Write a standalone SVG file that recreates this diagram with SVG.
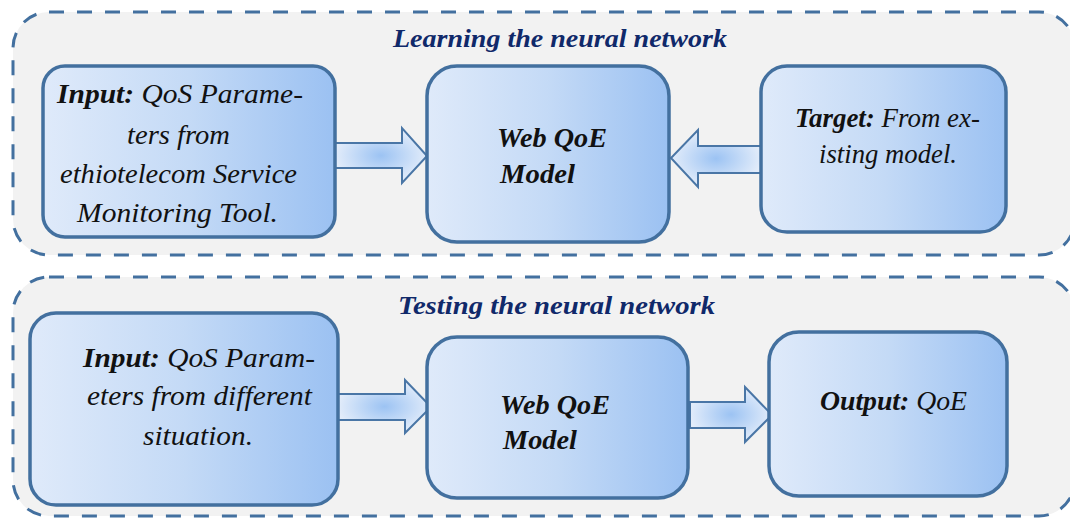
<svg xmlns="http://www.w3.org/2000/svg" width="1070" height="518" viewBox="0 0 1070 518">
  <defs>
    <linearGradient id="boxFill" x1="0" y1="0" x2="1" y2="0">
      <stop offset="0" stop-color="#dfeafa"/>
      <stop offset="0.5" stop-color="#c4daf6"/>
      <stop offset="1" stop-color="#9bc1f2"/>
    </linearGradient>
    <radialGradient id="arrowFill" cx="0.5" cy="0.5" r="0.5">
      <stop offset="0" stop-color="#9cc3f3"/>
      <stop offset="1" stop-color="#e2ecfa"/>
    </radialGradient>
    <style>
      .panel { fill: #f2f2f2; stroke: #43709f; stroke-width: 3; stroke-dasharray: 15 13; }
      .box { fill: url(#boxFill); stroke: #43709f; stroke-width: 3.5; }
      .arrow { fill: url(#arrowFill); stroke: #4a76a6; stroke-width: 2; stroke-linejoin: miter; }
      .title { font-family: "Liberation Serif", "Times New Roman", Tinos, serif; font-style: italic; font-weight: bold; font-size: 25px; fill: #10296a; }
      .label { font-family: "Liberation Serif", "Times New Roman", Tinos, serif; font-style: italic; font-size: 27px; fill: #111; }
      .b { font-weight: bold; }
    </style>
  </defs>

  <rect width="1070" height="518" fill="#ffffff"/>

  <!-- Panel: training stage -->
  <g id="panel-learning">
    <rect class="panel" x="13" y="12" width="1062" height="243" rx="36" ry="36"/>
    <text class="title" x="393" y="47" textLength="334" lengthAdjust="spacingAndGlyphs">Learning the neural network</text>
  </g>

  <!-- Panel: testing stage -->
  <g id="panel-testing">
    <rect class="panel" x="13" y="277" width="1062" height="239" rx="36" ry="36"/>
    <text class="title" x="398" y="314" textLength="317" lengthAdjust="spacingAndGlyphs">Testing the neural network</text>
  </g>

  <!-- Connectors -->
  <g id="connectors">
    <polygon class="arrow" points="335,143 402,143 402,128 427,156 402,183 402,168 335,168"/>
    <polygon class="arrow" points="761,146 698,146 698,130 671,158 698,187 698,173 761,173"/>
    <polygon class="arrow" points="338,394 405,394 405,380 431,407 405,433 405,420 338,420"/>
    <polygon class="arrow" points="690,402 745,402 745,387 772,415 745,442 745,428 690,428"/>
  </g>

  <!-- Training input -->
  <g id="learn-input">
    <rect class="box" x="43" y="66" width="292" height="171" rx="22" ry="22"/>
    <text class="label" x="57" y="103" textLength="246" lengthAdjust="spacingAndGlyphs"><tspan class="b">Input:</tspan> QoS Parame-</text>
    <text class="label" x="127" y="144" textLength="103" lengthAdjust="spacingAndGlyphs">ters from</text>
    <text class="label" x="60" y="183" textLength="237" lengthAdjust="spacingAndGlyphs">ethiotelecom Service</text>
    <text class="label" x="77" y="222" textLength="201" lengthAdjust="spacingAndGlyphs">Monitoring Tool.</text>
  </g>

  <!-- Training model -->
  <g id="learn-model">
    <rect class="box" x="427" y="66" width="242" height="176" rx="30" ry="30"/>
    <text class="label b" x="497" y="147" textLength="110" lengthAdjust="spacingAndGlyphs">Web QoE</text>
    <text class="label b" x="500" y="183" textLength="75" lengthAdjust="spacingAndGlyphs">Model</text>
  </g>

  <!-- Training target -->
  <g id="learn-target">
    <rect class="box" x="761" y="66" width="245" height="166" rx="26" ry="26"/>
    <text class="label" x="795" y="127" textLength="185" lengthAdjust="spacingAndGlyphs"><tspan class="b">Target:</tspan> From ex-</text>
    <text class="label" x="819" y="163" textLength="138" lengthAdjust="spacingAndGlyphs">isting model.</text>
  </g>

  <!-- Testing input -->
  <g id="test-input">
    <rect class="box" x="30" y="313" width="308" height="192" rx="26" ry="26"/>
    <text class="label" x="83" y="367" textLength="232" lengthAdjust="spacingAndGlyphs"><tspan class="b">Input:</tspan> QoS Param-</text>
    <text class="label" x="87" y="405" textLength="225" lengthAdjust="spacingAndGlyphs">eters from different</text>
    <text class="label" x="143" y="445" textLength="110" lengthAdjust="spacingAndGlyphs">situation.</text>
  </g>

  <!-- Testing model -->
  <g id="test-model">
    <rect class="box" x="427" y="337" width="261" height="161" rx="30" ry="30"/>
    <text class="label b" x="500" y="414" textLength="110" lengthAdjust="spacingAndGlyphs">Web QoE</text>
    <text class="label b" x="503" y="449" textLength="74" lengthAdjust="spacingAndGlyphs">Model</text>
  </g>

  <!-- Testing output -->
  <g id="test-output">
    <rect class="box" x="769" y="332" width="238" height="164" rx="30" ry="30"/>
    <text class="label" x="820" y="410" textLength="147" lengthAdjust="spacingAndGlyphs"><tspan class="b">Output:</tspan> QoE</text>
  </g>
</svg>
